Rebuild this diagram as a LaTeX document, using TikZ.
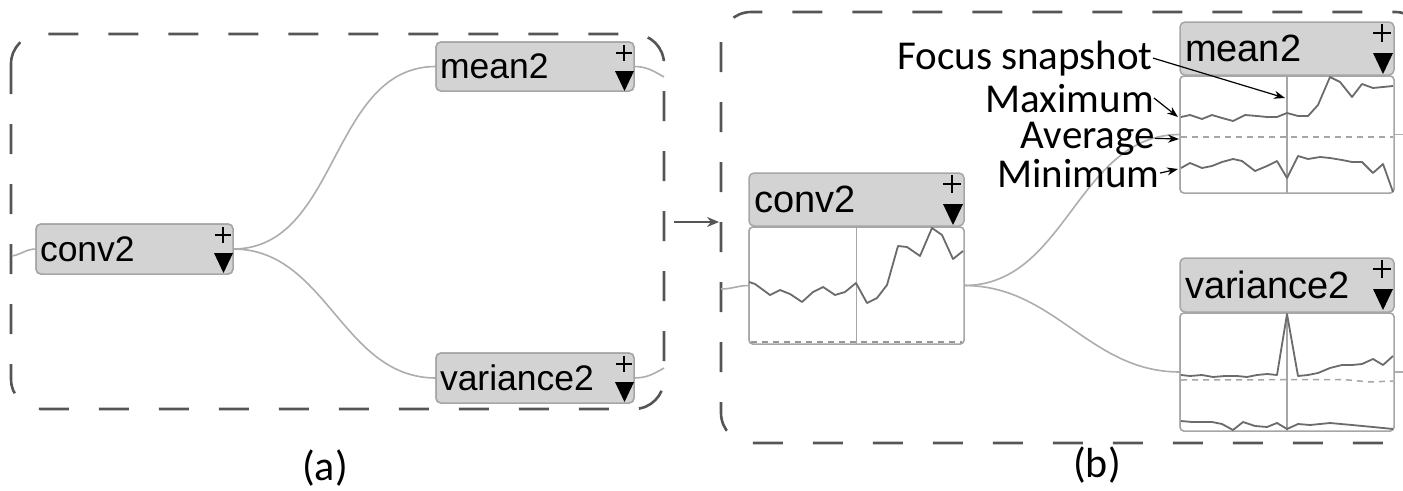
\documentclass[tikz,border=0pt]{standalone}
\usepackage{fontspec}
\newfontfamily\uifont{Liberation Sans}
\newfontfamily\capfont{Carlito}
\usetikzlibrary{arrows.meta}
\definecolor{hdrfill}{HTML}{D3D3D3}
\definecolor{boxline}{HTML}{A6A6A6}
\definecolor{wire}{HTML}{ADADAD}
\definecolor{tracec}{HTML}{6B6B6B}
\definecolor{framec}{HTML}{555555}
\newcommand\nodefontA{\uifont\fontsize{35.5}{40}\selectfont}
\newcommand\nodefontB{\uifont\fontsize{38}{42}\selectfont}
% expand / collapse marks in the top right corner of a header
\newcommand\marksA[1]{%
  \draw[markst] ([shift={(-10,3)}]#1.north east) -- ++(0,16)
                ([shift={(-18,11)}]#1.north east) -- ++(16,0);
  \fill ([shift={(-19,29)}]#1.north east) -- ++(19,0) -- ++(-9.5,20) -- cycle;}
\newcommand\marksB[1]{%
  \draw[markst] ([shift={(-12,2)}]#1.north east) -- ++(0,18)
                ([shift={(-21,11)}]#1.north east) -- ++(18,0);
  \fill ([shift={(-21,31)}]#1.north east) -- ++(20,0) -- ++(-10,21) -- cycle;}
\begin{document}
\begin{tikzpicture}[x=1pt,y=-1pt,
  panel/.style={draw=framec, line width=2.6pt, dash pattern=on 30pt off 30pt, rounded corners=30pt},
  wirest/.style={draw=wire, line width=1.6pt},
  hdr/.style={draw=boxline, fill=hdrfill, line width=1.5pt, rounded corners=5pt,
    anchor=north west, inner sep=0pt, outer sep=0pt, align=left},
  chart/.style={draw=boxline, fill=white, line width=1.5pt, rounded corners=4pt,
    anchor=north west, inner sep=0pt, outer sep=0pt},
  trace/.style={draw=tracec, line width=1.8pt, line join=round},
  avg/.style={draw=boxline, line width=1.5pt, dash pattern=on 6pt off 5pt},
  focusln/.style={draw=boxline, line width=1.5pt},
  markst/.style={draw=black, line width=1.8pt},
  note/.style={font=\capfont\fontsize{41}{44}\selectfont, inner sep=0pt, anchor=base east},
  notearrow/.style={draw=black, line width=1.2pt, -{Stealth[length=11pt,width=8pt]}},
  caption/.style={font=\capfont\fontsize{42}{46}\selectfont, inner sep=0pt}]
\clip (0,0) rectangle (1403,490);

% dashed frames of both panels
\draw[panel] (11,34) rectangle (664,409);
\draw[panel] (721,12) rectangle (1425,443);

% ---------------- panel (a) ----------------
\node[hdr, minimum width=197pt, minimum height=50pt, text width=189pt, font=\nodefontA] (aconv) at (36,224) {conv2};
\node[hdr, minimum width=198pt, minimum height=49pt, text width=190pt, font=\nodefontA] (amean) at (436,42) {mean2};
\node[hdr, minimum width=198pt, minimum height=50pt, text width=190pt, font=\nodefontA] (avar) at (436,353) {variance2};

\coordinate (ainl) at (12,256);
\coordinate (aoutm) at (664,77);
\coordinate (aoutv) at (664,368);
\begin{scope}[on background layer/.style={}]
\draw[wirest] (ainl) to[out=10,in=180] (aconv.west);
\draw[wirest] (aconv.east) to[out=0,in=180] (amean.west);
\draw[wirest] (aconv.east) to[out=0,in=180] (avar.west);
\draw[wirest] (amean.east) to[out=0,in=150] (aoutm);
\draw[wirest] (avar.east) to[out=0,in=210] (aoutv);
\end{scope}
% redraw the headers over the wire ends
\node[hdr, minimum width=197pt, minimum height=50pt, text width=189pt, font=\nodefontA] at (36,224) {conv2};
\node[hdr, minimum width=198pt, minimum height=49pt, text width=190pt, font=\nodefontA] at (436,42) {mean2};
\node[hdr, minimum width=198pt, minimum height=50pt, text width=190pt, font=\nodefontA] at (436,353) {variance2};
\marksA{aconv}
\marksA{amean}
\marksA{avar}

% transition arrow
\coordinate (arrs) at (674,222);
\coordinate (arre) at (719,222);
\draw[draw=framec, line width=2pt, -{Stealth[length=12pt,width=10pt]}] (arrs) -- (arre);

% ---------------- panel (b) ----------------
\coordinate (binl) at (721,289);
\coordinate (boutm) at (1403,134.5);
\coordinate (boutv) at (1403,372);
\node[chart, minimum width=215pt, minimum height=117pt] (bconvc) at (749,227) {};
\node[chart, minimum width=214pt, minimum height=117pt] (bmeanc) at (1180,76) {};
\node[chart, minimum width=214pt, minimum height=118pt] (bvarc) at (1180,313) {};
\draw[wirest] (binl) to[out=0,in=180] (bconvc.west);
\draw[wirest] (bconvc.east) to[out=0,in=180] (bmeanc.west);
\draw[wirest] (bconvc.east) to[out=0,in=180] (bvarc.west);
\draw[wirest] (bmeanc.east) -- (boutm);
\draw[wirest] (bvarc.east) -- (boutv);
% charts on top of the wires
\node[chart, minimum width=215pt, minimum height=117pt] at (749,227) {};
\node[chart, minimum width=214pt, minimum height=117pt] at (1180,76) {};
\node[chart, minimum width=214pt, minimum height=118pt] at (1180,313) {};

\node[hdr, minimum width=215pt, minimum height=53pt, text width=205pt, font=\nodefontB] (bconvh) at (749,173) {conv2};
\node[hdr, minimum width=214pt, minimum height=53pt, text width=204pt, font=\nodefontB] (bmeanh) at (1180,22) {mean2};
\node[hdr, minimum width=214pt, minimum height=54pt, text width=204pt, font=\nodefontB] (bvarh) at (1180,258) {variance2};
\marksB{bconvh}
\marksB{bmeanh}
\marksB{bvarh}

% focus lines
\draw[focusln] (bconvc.north) -- (bconvc.south);
\draw[focusln] (bmeanc.north) -- (bmeanc.south);
\draw[focusln] (bvarc.north) -- (bvarc.south);

% conv2 trace
\draw[avg, draw=tracec!70] (751,342) -- (962,342);
\draw[trace] (749,282) -- (755,284) -- (770,295) -- (780,290) -- (790,294) -- (802,302)
  -- (813,292) -- (823,287) -- (835,295) -- (845,292) -- (856,283) -- (867,303)
  -- (877,298) -- (887,285) -- (898,246) -- (907,247) -- (920,256) -- (932,228)
  -- (942,235) -- (953,259) -- (963,251);

% mean2 traces
\draw[avg] (1181,137) -- (1393,137);
\draw[trace] (1181,117) -- (1190,115) -- (1202,119) -- (1212,115) -- (1222,118) -- (1233,121)
  -- (1245,115) -- (1257,116) -- (1267,117) -- (1277,117) -- (1287,113) -- (1298,116)
  -- (1308,116) -- (1318,105) -- (1330,77) -- (1340,82) -- (1352,97) -- (1362,84)
  -- (1373,88) -- (1383,87) -- (1393,86);
\draw[trace] (1181,168) -- (1190,163) -- (1202,168) -- (1212,166) -- (1222,162) -- (1233,159)
  -- (1242,161) -- (1255,171) -- (1267,166) -- (1277,161) -- (1287,178) -- (1298,156)
  -- (1308,159) -- (1320,157) -- (1330,158) -- (1342,160) -- (1352,162) -- (1362,162)
  -- (1373,173) -- (1383,164) -- (1393,192);

% variance2 traces
\draw[avg] (1181,380) -- (1343,379.5) -- (1370,382) -- (1393,381);
\draw[trace] (1181,375) -- (1190,376) -- (1202,375) -- (1213,377) -- (1225,376) -- (1237,376)
  -- (1247,377) -- (1257,375) -- (1267,374) -- (1277,375) -- (1287,314) -- (1298,376)
  -- (1308,375) -- (1318,373) -- (1330,368) -- (1342,365) -- (1352,365) -- (1362,364)
  -- (1373,359) -- (1383,365) -- (1393,356);
\draw[trace] (1181,421) -- (1192,422) -- (1212,422) -- (1222,424) -- (1233,430) -- (1243,422)
  -- (1255,426) -- (1267,427) -- (1277,423) -- (1287,429) -- (1298,424) -- (1310,425)
  -- (1330,423) -- (1352,425) -- (1373,427) -- (1393,429);

% annotations
\node[note] (lfocus) at (1153,69) {Focus snapshot};
\node[note] (lmax) at (1154,112) {Maximum};
\node[note] (lavg) at (1155,148) {Average};
\node[note] (lmin) at (1160,187) {Minimum};
\coordinate (pfocus) at (1285,98);
\coordinate (pmax) at (1178,117);
\coordinate (pavg) at (1179,139);
\coordinate (pmin) at (1178,169);
\draw[notearrow] (lfocus.east) -- (pfocus);
\draw[notearrow] (lmax.east) -- (pmax);
\draw[notearrow] (lavg.east) -- (pavg);
\draw[notearrow] (lmin.east) -- (pmin);

% captions
\node[caption] (capa) at (325,468) {(a)};
\node[caption] (capb) at (1097,465) {(b)};
\end{tikzpicture}
\end{document}
